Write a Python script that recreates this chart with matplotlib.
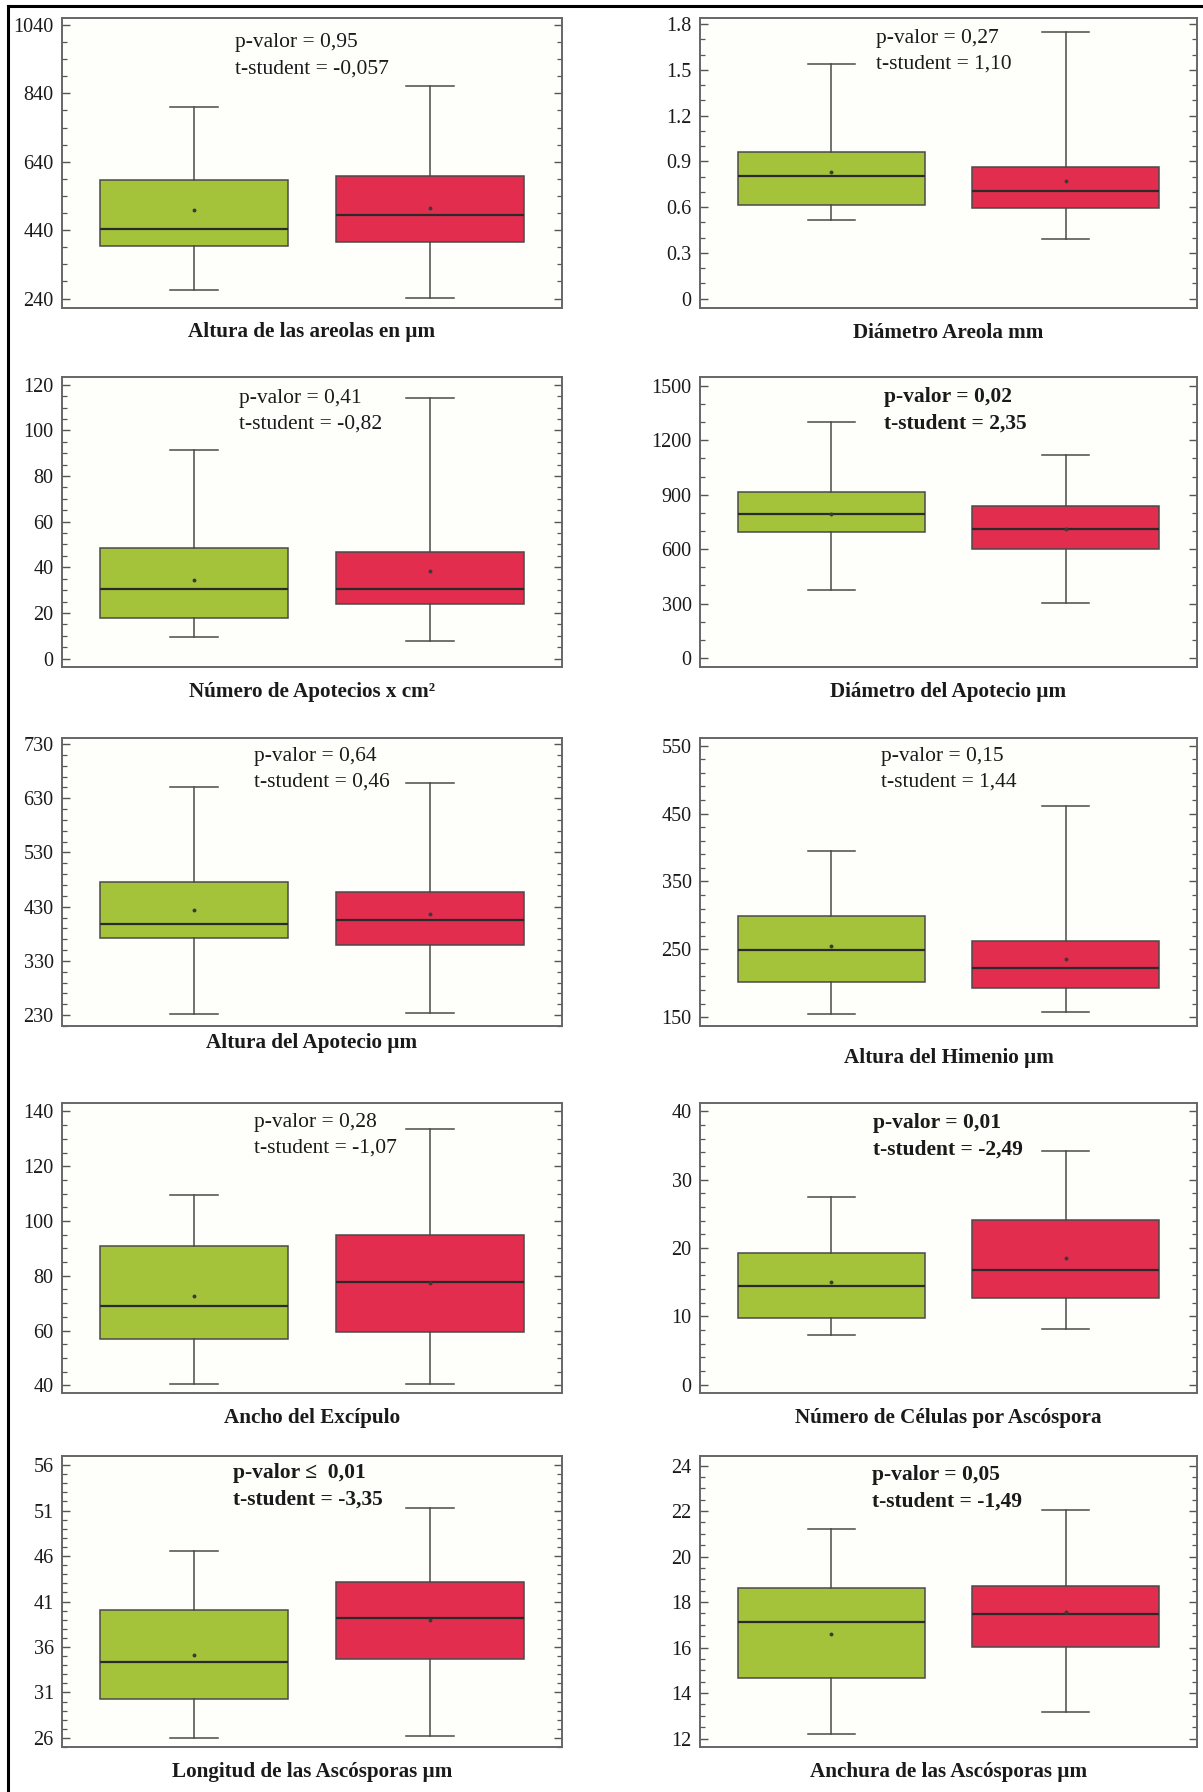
import numpy as np
import matplotlib
matplotlib.use("Agg")
import matplotlib.pyplot as plt
from matplotlib.lines import Line2D
from matplotlib.ticker import FixedLocator, FuncFormatter

plt.rcParams["font.family"] = ["Liberation Serif", "DejaVu Serif"]

# ---- data ---------------------------------------------------------------
variables = [
    "Altura de las areolas en µm",
    "Diámetro Areola mm",
    "Número de Apotecios x cm²",
    "Diámetro del Apotecio µm",
    "Altura del Apotecio µm",
    "Altura del Himenio µm",
    "Ancho del Excípulo",
    "Número de Células por Ascóspora",
    "Longitud de las Ascósporas µm",
    "Anchura de las Ascósporas µm",
]

# first group (green)
green_low = [264, 0.515, 9.5, 377, 232, 155, 40.5, 7.3, 26.0, 12.2]
green_q1 = [395, 0.616, 17.8, 695, 372, 202, 57.1, 9.8, 30.3, 14.67]
green_med = [443, 0.802, 30.7, 792, 399, 249, 68.9, 14.4, 34.3, 17.11]
green_mean = [500, 0.831, 34.5, 796, 424, 255, 72.8, 15.0, 35.1, 16.61]
green_q3 = [588, 0.960, 48.4, 917, 475, 299, 91.0, 19.2, 40.1, 18.62]
green_high = [799, 1.541, 91.4, 1303, 651, 395, 109.5, 27.4, 46.6, 21.19]

# second group (red)
red_low = [241, 0.388, 7.5, 305, 234, 158, 40.6, 8.1, 26.2, 13.17]
red_q1 = [404, 0.592, 24.0, 601, 359, 193, 59.5, 12.7, 34.7, 16.04]
red_med = [485, 0.706, 30.7, 713, 406, 222, 77.6, 16.8, 39.2, 17.49]
red_mean = [504, 0.774, 38.2, 713, 416, 235, 77.5, 18.6, 39.0, 17.55]
red_q3 = [597, 0.864, 46.7, 836, 457, 262, 94.9, 24.1, 43.1, 18.70]
red_high = [861, 1.749, 114.0, 1119, 658, 461, 133.7, 34.2, 51.3, 22.04]

p_relation = ["=", "=", "=", "=", "=", "=", "=", "=", "≤ ", "="]
p_values = ["0,95", "0,27", "0,41", "0,02", "0,64", "0,15", "0,28", "0,01", "0,01", "0,05"]
t_values = ["-0,057", "1,10", "-0,82", "2,35", "0,46", "1,44", "-1,07", "-2,49", "-3,35", "-1,49"]
significant = [False, False, False, True, False, False, False, True, True, True]

tick_start = [240, 0, 0, 0, 230, 150, 40, 0, 26, 12]
tick_stop = [1040, 1.8, 120, 1500, 730, 550, 140, 40, 56, 24]
tick_step = [200, 0.3, 20, 300, 100, 100, 20, 10, 5, 2]
minor_step = [50, 0.1, 5, 100, 20, 20, 5, 2, 1, 0.5]
y_lower = [214, -0.059, -3.7, -50, 210, 137, 37.2, -1.2, 25.0, 11.63]
y_upper = [1060, 1.841, 123.2, 1546, 742, 562, 143.1, 41.2, 57.0, 24.42]

# ---- layout (pixels) ----------------------------------------------------
W, H = 1203, 1792
col_left = [62, 700]
col_width = [500, 497]
row_top = [18, 377.5, 737.5, 1103, 1456]
row_bottom = [307.5, 667, 1026, 1393, 1747]
label_y = [[332, 333], [692, 692], [1043, 1058], [1418, 1418], [1772, 1772]]
note_xy = [[(235, 43), (876, 38)], [(239, 398), (884, 397)],
           [(254, 756), (881, 756)], [(254, 1122), (873, 1123)],
           [(233, 1473), (872, 1475)]]

GREEN = "#a4c33a"
RED = "#e32d4f"
EDGE = "#4a4a4a"

fig = plt.figure(figsize=(W / 100, H / 100), dpi=100)
fig.patch.set_facecolor("white")


def fmt(v, _pos):
    return "%g" % round(v, 6)


for i, name in enumerate(variables):
    r, c = divmod(i, 2)
    left = col_left[c]
    top = row_top[r]
    bottom = row_bottom[r]
    ax = fig.add_axes([left / W, 1 - bottom / H, col_width[c] / W, (bottom - top) / H])
    ax.set_facecolor("#fefefb")

    stats = [
        dict(whislo=green_low[i], q1=green_q1[i], med=green_med[i],
             mean=green_mean[i], q3=green_q3[i], whishi=green_high[i], fliers=[]),
        dict(whislo=red_low[i], q1=red_q1[i], med=red_med[i],
             mean=red_mean[i], q3=red_q3[i], whishi=red_high[i], fliers=[]),
    ]
    bp = ax.bxp(stats, positions=[1, 2], widths=0.8, showmeans=True,
                patch_artist=True, showfliers=False,
                boxprops=dict(edgecolor=EDGE, linewidth=1.1),
                medianprops=dict(color="#2a2a2a", linewidth=1.6),
                whiskerprops=dict(color=EDGE, linewidth=1.1),
                capprops=dict(color=EDGE, linewidth=1.1),
                capwidths=0.2,
                meanprops=dict(marker="o", markersize=1.8,
                               markerfacecolor="#3a3a3a",
                               markeredgecolor="#3a3a3a"))
    for patch, col in zip(bp["boxes"], [GREEN, RED]):
        patch.set_facecolor(col)

    ax.set_xlim(0.44, 2.56)
    ax.set_ylim(y_lower[i], y_upper[i])
    majors = np.arange(tick_start[i], tick_stop[i] + tick_step[i] * 0.01, tick_step[i])
    ax.yaxis.set_major_locator(FixedLocator(majors))
    ax.yaxis.set_major_formatter(FuncFormatter(fmt))
    m0 = tick_start[i] - np.floor((tick_start[i] - y_lower[i]) / minor_step[i]) * minor_step[i]
    ax.yaxis.set_minor_locator(FixedLocator(np.arange(m0, y_upper[i], minor_step[i])))
    ax.set_xticks([])
    ax.tick_params(axis="y", which="both", direction="in", left=True, right=True,
                   color="#555555", labelsize=14.5, pad=6, labelcolor="#1a1a1a")
    ax.tick_params(axis="y", which="major", length=6, width=1.0)
    ax.tick_params(axis="y", which="minor", length=3.3, width=0.9)
    for sp in ax.spines.values():
        sp.set_color("#666666")
        sp.set_linewidth(1.4)

    weight = "bold" if significant[i] else "normal"
    nx, ny = note_xy[r][c]
    fig.text(nx / W, 1 - ny / H, "p-valor %s %s" % (p_relation[i], p_values[i]),
             ha="left", va="center", fontsize=15.5, fontweight=weight, color="#1a1a1a")
    fig.text(nx / W, 1 - (ny + 26.5) / H, "t-student = %s" % t_values[i],
             ha="left", va="center", fontsize=15.5, fontweight=weight, color="#1a1a1a")

    fig.text((left + col_width[c] / 2) / W, 1 - label_y[r][c] / H, name,
             ha="center", va="center", fontsize=15.2, fontweight="bold", color="#1a1a1a")

# outer frame (left and top edges)
fig.add_artist(Line2D([8 / W, 8 / W], [0, 1 - 6 / H], color="black", linewidth=2.2))
fig.add_artist(Line2D([8 / W, 1], [1 - 6 / H, 1 - 6 / H], color="black", linewidth=2.2))

fig.savefig("out.png", dpi=100, facecolor="white")
